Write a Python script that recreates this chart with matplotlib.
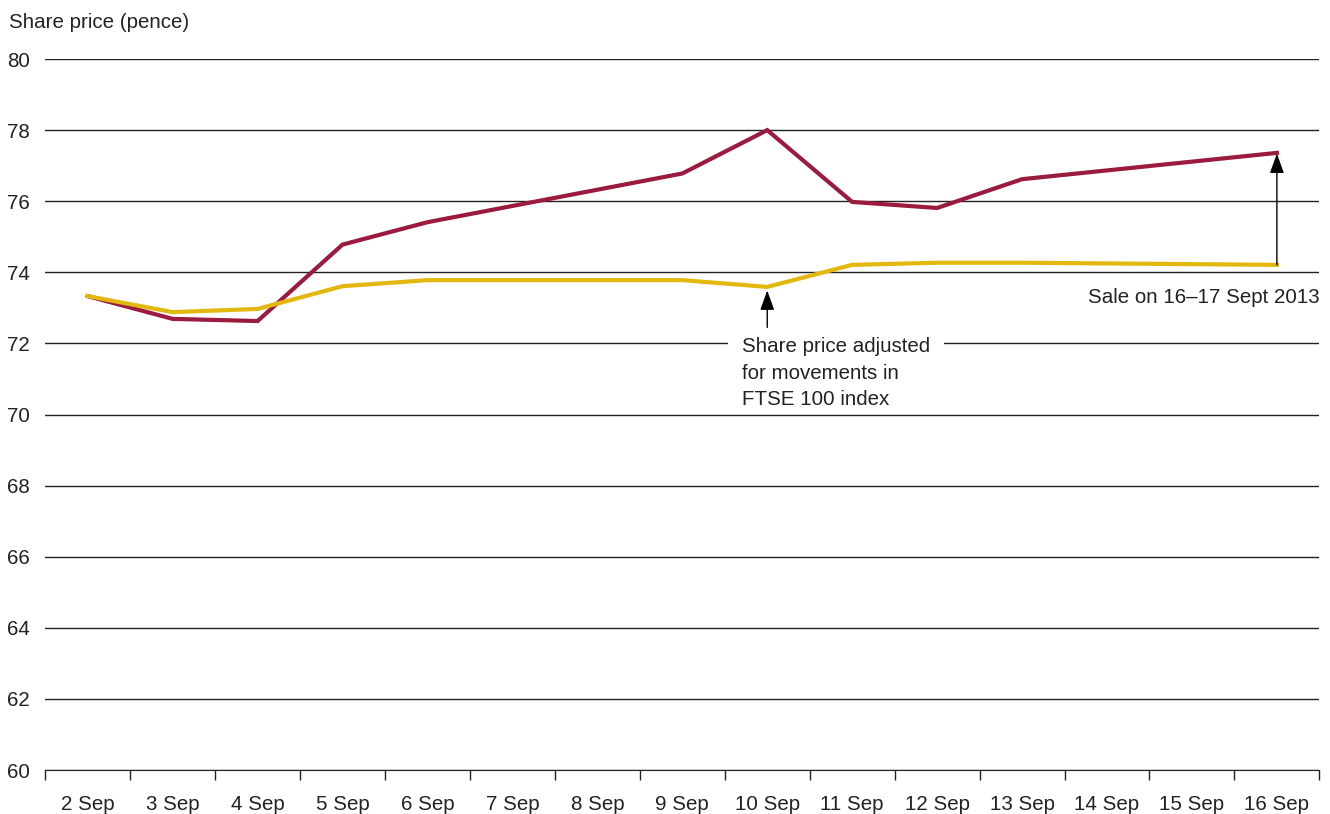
import numpy as np
import matplotlib.pyplot as plt

plt.rcParams['font.family'] = ['Liberation Sans', 'DejaVu Sans']

days = ['2 Sep', '3 Sep', '4 Sep', '5 Sep', '6 Sep', '7 Sep', '8 Sep', '9 Sep',
        '10 Sep', '11 Sep', '12 Sep', '13 Sep', '14 Sep', '15 Sep', '16 Sep']
# trading days only (no prices at weekends)
trade_days = ['2 Sep', '3 Sep', '4 Sep', '5 Sep', '6 Sep', '9 Sep', '10 Sep',
              '11 Sep', '12 Sep', '13 Sep', '16 Sep']
share_price = [73.33, 72.69, 72.63, 74.78, 75.41, 76.78, 78.0, 75.98, 75.81, 76.62, 77.36]
adjusted_price = [73.33, 72.88, 72.97, 73.61, 73.78, 73.78, 73.59, 74.21, 74.27, 74.27, 74.21]
note_lines = ['Share price adjusted', 'for movements in', 'FTSE 100 index']

RED = '#9b1b3f'
YELLOW = '#e2b80e'
INK = '#222222'
FS = 14.8
ARROW = dict(arrowstyle='-|>,head_length=0.5,head_width=0.18', color='black', lw=1,
             mutation_scale=24, shrinkA=0, shrinkB=0)

fig = plt.figure(figsize=(13.3, 8.14), dpi=100)
ax = fig.add_axes([0.034, 0.054, 0.958, 0.8735])

x = [days.index(d) for d in trade_days]
ax.plot(x, share_price, color=RED, lw=3, solid_joinstyle='miter', zorder=3)
ax.plot(x, adjusted_price, color=YELLOW, lw=3, solid_joinstyle='miter', zorder=4)

ax.set_xlim(-0.5, len(days) - 0.5)
ax.set_ylim(60, 80)
ax.set_yticks(np.arange(60, 81, 2))
ax.yaxis.grid(True, color=INK, lw=1)
ax.set_axisbelow(True)
ax.tick_params(axis='y', length=0, pad=11, labelsize=FS, labelcolor=INK)

ax.set_xticks(np.arange(-0.5, len(days), 1))
ax.set_xticklabels([])
ax.set_xticks(range(len(days)), minor=True)
ax.set_xticklabels(days, minor=True)
ax.tick_params(axis='x', which='major', length=7, color=INK, width=1)
ax.tick_params(axis='x', which='minor', length=0, pad=18, labelsize=FS, labelcolor=INK)

for side in ['left', 'right', 'top']:
    ax.spines[side].set_visible(False)
ax.spines['bottom'].set_color(INK)

fig.text(0.007, 0.972, 'Share price (pence)', fontsize=FS, color=INK, va='center', ha='left')

# adjusted-price note under 10 Sep
i10 = days.index('10 Sep')
ax.annotate('', xy=(i10, adjusted_price[trade_days.index('10 Sep')] - 0.1),
            xytext=(i10, 72.45), arrowprops=ARROW, zorder=6)
note_x = i10 - 0.30
for k, line in enumerate(note_lines):
    box = dict(facecolor='white', edgecolor='none', pad=10) if k == 0 else None
    ax.text(note_x, 71.9 - 0.745 * k, line, fontsize=FS, color=INK,
            ha='left', va='center', zorder=5, bbox=box)

# sale marker at 16 Sep
i16 = days.index('16 Sep')
ax.annotate('', xy=(i16, share_price[-1] - 0.02), xytext=(i16, adjusted_price[-1]),
            arrowprops=ARROW, zorder=6)
ax.text(len(days) - 0.5, 73.3, 'Sale on 16\u201317 Sept 2013', fontsize=FS, color=INK,
        ha='right', va='center')

fig.savefig('out.png', dpi=100)
